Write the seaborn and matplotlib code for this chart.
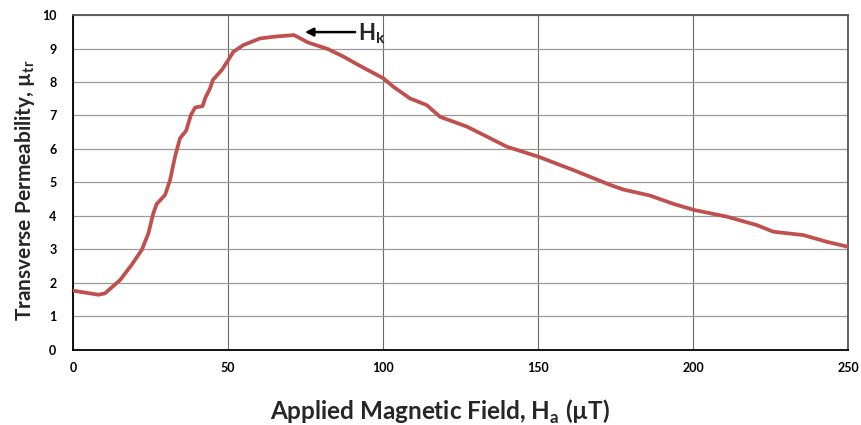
import matplotlib
matplotlib.use("Agg")
import matplotlib.pyplot as plt
import seaborn as sns
import pandas as pd

# Applied field (µT) and measured transverse permeability
field = [0, 8.2, 10.3, 15.2, 18.9, 22.2, 24.3, 25.9, 27.0, 29.7, 31.3, 32.9, 34.5,
         36.5, 38.0, 39.4, 41.8, 42.6, 44.2, 45.1, 48.0, 50.1, 51.7, 54.9, 60.3,
         65.7, 71.3, 75.8, 82.3, 87.2, 92.6, 100.1, 103.3, 108.7, 114.1, 118.4,
         127.0, 133.5, 139.9, 150.1, 161.4, 173.2, 177.5, 186.1, 193.7, 200.3,
         210.9, 220.5, 225.9, 235.6, 243.1, 250.0]
permeability = [1.77, 1.65, 1.69, 2.09, 2.54, 2.99, 3.48, 4.08, 4.36, 4.63, 5.07, 5.77,
                6.32, 6.55, 7.01, 7.24, 7.28, 7.51, 7.81, 8.06, 8.36, 8.66, 8.90, 9.10,
                9.30, 9.36, 9.40, 9.18, 8.98, 8.76, 8.48, 8.11, 7.86, 7.51, 7.31, 6.96,
                6.67, 6.37, 6.07, 5.77, 5.37, 4.93, 4.79, 4.61, 4.36, 4.18, 3.98, 3.73,
                3.53, 3.43, 3.23, 3.08]
x_ticks = [0, 50, 100, 150, 200, 250]
y_ticks = list(range(0, 11))

sns.set_theme(style="white")
plt.rcParams["font.family"] = ["Lato", "DejaVu Sans"]

df = pd.DataFrame({"H": field, "mu": permeability})

fig = plt.figure(figsize=(8.61, 4.25), dpi=100)
ax = fig.add_axes([0.0848, 0.1765, 0.9002, 0.7882])

sns.lineplot(data=df, x="H", y="mu", ax=ax, color="#C0504D", linewidth=2.7,
             solid_joinstyle="round", solid_capstyle="round", zorder=3)

ax.set_xlim(0, 250)
ax.set_ylim(0, 10)
ax.set_xticks(x_ticks)
ax.set_yticks(y_ticks)
ax.set_xticklabels([str(v) for v in x_ticks], fontweight="bold", fontsize=9)
ax.set_yticklabels([str(v) for v in y_ticks], fontweight="bold", fontsize=9)
ax.tick_params(axis="x", length=0, pad=9, colors="black")
ax.tick_params(axis="y", length=0, pad=12, colors="black")

ax.grid(True, axis="y", color="#9a9a9a", linewidth=0.9)
ax.grid(True, axis="x", color="#6a6a6a", linewidth=0.8)
ax.set_axisbelow(True)
for side in ["left", "bottom"]:
    ax.spines[side].set_color("black")
    ax.spines[side].set_linewidth(1.3)
for side in ["top", "right"]:
    ax.spines[side].set_color("#555555")
    ax.spines[side].set_linewidth(1.3)

ax.set_xlabel(r"Applied Magnetic Field, H$_\mathregular{a}$ (µT)", fontsize=17.5,
              fontweight="bold")
ax.xaxis.set_label_coords(0.4735, -0.143)
ax.set_ylabel(r"Transverse Permeability, µ$_\mathregular{tr}$", fontsize=15,
              fontweight="bold")
ax.yaxis.set_label_coords(-0.047, 0.478)

# Anisotropy field marker at the permeability peak
ax.annotate("", xy=(74.8, 9.49), xytext=(91.0, 9.49),
            arrowprops=dict(arrowstyle="-|>", color="black", lw=1.8,
                            mutation_scale=12, shrinkA=0, shrinkB=0))
ax.text(91.8, 9.45, r"H$_\mathregular{k}$", fontsize=16, fontweight="bold",
        va="center", ha="left")

fig.savefig("out.png", dpi=100)
